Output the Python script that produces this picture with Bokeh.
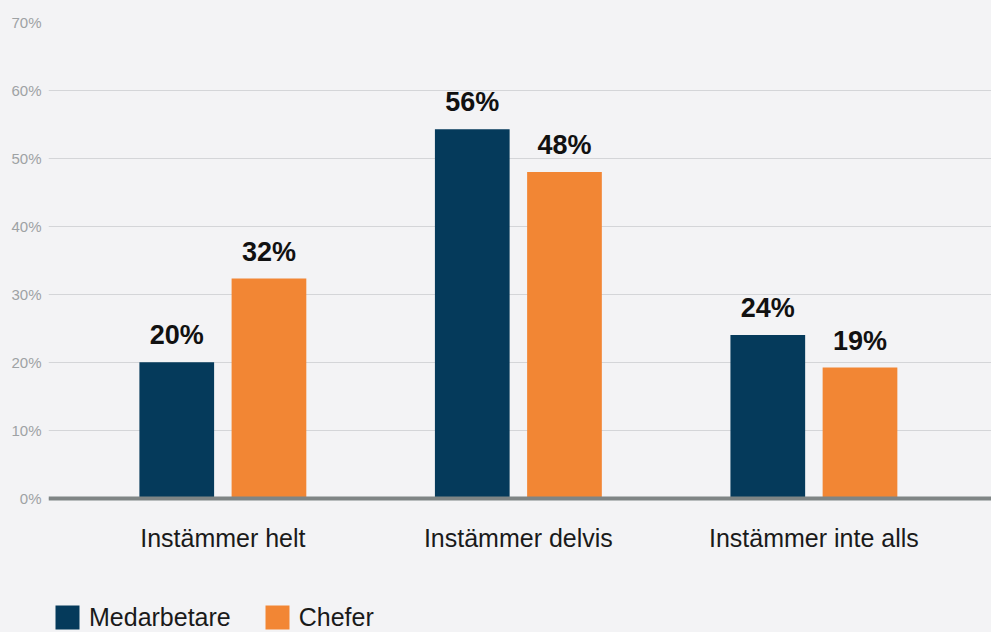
from bokeh.plotting import figure
from bokeh.models import ColumnDataSource, Range1d, FixedTicker, PrintfTickFormatter
from bokeh.transform import dodge
from bokeh.core.properties import value
from bokeh.embed import file_html
from bokeh.resources import INLINE

# ---- data ----
categories = ["Instämmer helt", "Instämmer delvis", "Instämmer inte alls"]
series_names = ["Medarbetare", "Chefer"]
medarbetare = [20.0, 54.3, 24.0]
chefer = [32.3, 48.0, 19.2]
medarbetare_labels = ["20%", "56%", "24%"]
chefer_labels = ["32%", "48%", "19%"]
y_ticks = [0, 10, 20, 30, 40, 50, 60, 70]

# ---- style ----
BG = "#f3f3f5"
colors = ["#053a5b", "#f28634"]
FONT = "Liberation Sans"
BAR_W = 0.2528
OFF = 0.156

x_idx = list(range(len(categories)))

# frame runs from the 70% line down to the bottom of the figure; the x axis sits at y = 0
p = figure(width=991, height=632, output_backend="svg", toolbar_location=None,
           x_range=Range1d(-0.590, 2.601), y_range=Range1d(-19.8, 70),
           background_fill_color=BG, border_fill_color=BG, outline_line_color=None,
           min_border_left=48, min_border_right=0, min_border_top=22, min_border_bottom=0)

src = ColumnDataSource(dict(x=x_idx, m=medarbetare, c=chefer,
                            ml=medarbetare_labels, cl=chefer_labels))

p.vbar(x=dodge("x", -OFF, range=p.x_range), top="m", width=BAR_W, source=src,
       fill_color=colors[0], line_color=None, legend_label=series_names[0])
p.vbar(x=dodge("x", OFF, range=p.x_range), top="c", width=BAR_W, source=src,
       fill_color=colors[1], line_color=None, legend_label=series_names[1])

for col, lab, off in (("m", "ml", -OFF), ("c", "cl", OFF)):
    p.text(x=dodge("x", off, range=p.x_range), y=col, text=lab, source=src,
           text_font=value(FONT), text_font_style="bold", text_font_size="27px",
           text_color="#111111", text_align="center", text_baseline="alphabetic",
           y_offset=-27)

# axes
xa = p.xaxis[0]
xa.fixed_location = 0
xa.ticker = FixedTicker(ticks=x_idx)
xa.major_label_overrides = {i: c for i, c in enumerate(categories)}
xa.major_label_text_font = FONT
xa.major_label_text_font_size = "25px"
xa.major_label_text_color = "#1a1a1a"
xa.major_label_standoff = 20
xa.axis_line_color = "#7f8585"
xa.axis_line_width = 4
xa.major_tick_line_color = None
xa.minor_tick_line_color = None

ya = p.yaxis[0]
ya.ticker = FixedTicker(ticks=y_ticks)
ya.formatter = PrintfTickFormatter(format="%d%%")
ya.major_label_text_font = FONT
ya.major_label_text_font_size = "15px"
ya.major_label_text_color = "#9ea2a4"
ya.major_label_standoff = 7
ya.major_tick_out = 0
ya.major_tick_in = 0
ya.axis_line_color = None
ya.major_tick_line_color = None
ya.minor_tick_line_color = None

p.xgrid.grid_line_color = None
p.ygrid.grid_line_color = "#d4d5d8"
p.ygrid.grid_line_width = 1

lg = p.legend[0]
lg.location = (4, 0)
lg.orientation = "horizontal"
lg.padding = 0
lg.margin = 0
lg.spacing = 31
lg.glyph_width = 30
lg.glyph_height = 30
lg.label_standoff = 7
lg.label_height = 30
lg.label_text_font = FONT
lg.label_text_font_size = "25px"
lg.label_text_color = "#1a1a1a"
lg.border_line_color = None
lg.background_fill_alpha = 0

html = file_html(p, INLINE)
html = html.replace("<head>", "<head><style>html,body{background:#f3f3f5}</style>", 1)
open("out.html", "w").write(html)
